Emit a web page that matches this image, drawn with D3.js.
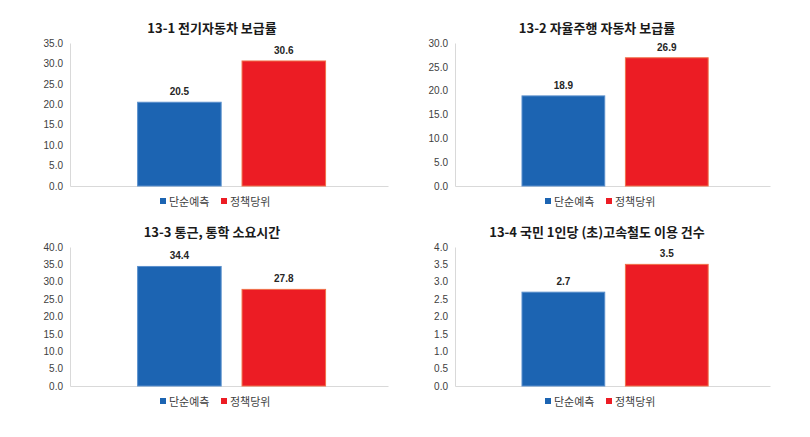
<!DOCTYPE html>
<html>
<head>
<meta charset="utf-8">
<script src="https://cdn.jsdelivr.net/npm/d3@7"></script>
<style>
  body { margin: 0; background: #fff; }
  svg { display: block; font-family: "Noto Sans CJK KR", "Noto Sans", sans-serif; }
</style>
</head>
<body>
<div id="chart"></div>
<script>
// data
const titles = ["13-1 전기자동차 보급률", "13-2 자율주행 자동차 보급률", "13-3 통근, 통학 소요시간", "13-4 국민 1인당 (초)고속철도 이용 건수"];
const series = ["단순예측", "정책당위"];
const simpleValues = [20.5, 18.9, 34.4, 2.7];
const policyValues = [30.6, 26.9, 27.8, 3.5];
const yMaxes = [35, 30, 40, 4];
const ySteps = [5, 5, 5, 0.5];

const colors = { "단순예측": "#1c64b2", "정책당위": "#ec1c24" };
const strokes = { "단순예측": "#5a8fcc", "정책당위": "#f0704a" };

let width = 810;
let height = 437;

// plot boxes for the 4 panels
const boxes = [
    { left: 70, right: 388, top: 43, bottom: 186, titleX: 212, titleY: 27, legendY: 201 },
    { left: 455, right: 770, top: 43, bottom: 186, titleX: 597, titleY: 27, legendY: 201 },
    { left: 70, right: 388, top: 247, bottom: 386, titleX: 212, titleY: 231, legendY: 401 },
    { left: 455, right: 770, top: 247, bottom: 386, titleX: 597, titleY: 231, legendY: 401 }
];

let svg = d3.select("#chart")
    .append("svg")
    .attr("width", width)
    .attr("height", height);

boxes.forEach((b, i) => {
    let dataset = series.map((s, j) => [s, j === 0 ? simpleValues[i] : policyValues[i]]);

    let x0 = d3.scaleBand()
        .domain(["all"])
        .range([b.left, b.right])
        .paddingInner(0)
        .paddingOuter(0.346)
        .align(0.52);

    let x1 = d3.scaleBand()
        .domain(series)
        .range([0, x0.bandwidth()])
        .paddingInner(0.2)
        .paddingOuter(0);

    let yScale = d3.scaleLinear()
        .domain([0, yMaxes[i]])
        .range([b.bottom, b.top]);

    let ticks = d3.range(0, yMaxes[i] + ySteps[i] / 2, ySteps[i]);

    let g = svg.append("g");

    // title
    g.append("text")
        .attr("x", b.titleX)
        .attr("y", b.titleY)
        .attr("text-anchor", "middle")
        .attr("dominant-baseline", "central")
        .attr("font-size", "13px")
        .attr("font-weight", "bold")
        .attr("fill", "#1a1a1a")
        .text(titles[i]);

    // y axis
    let yAxis = d3.axisLeft(yScale)
        .tickValues(ticks)
        .tickFormat(d3.format(".1f"))
        .tickSize(0)
        .tickPadding(7);

    let ya = g.append("g")
        .attr("transform", "translate(" + b.left + ",0)")
        .call(yAxis);
    ya.select(".domain").attr("stroke", "#d9d9d9");
    ya.selectAll("text")
        .attr("font-size", "10px")
        .attr("fill", "#404040")
        .attr("font-family", "Liberation Sans, Arial, sans-serif");

    // baseline
    let xAxis = d3.axisBottom(d3.scaleLinear().range([b.left, b.right])).ticks(0).tickSize(0);
    let xa = g.append("g")
        .attr("transform", "translate(0," + b.bottom + ")")
        .call(xAxis);
    xa.select(".domain").attr("stroke", "#d9d9d9");
    xa.selectAll("text").remove();

    // bars
    let gx = x0("all");
    g.selectAll("rect.bar")
        .data(dataset)
        .enter()
        .append("rect")
        .attr("class", "bar")
        .attr("x", d => gx + x1(d[0]))
        .attr("y", d => yScale(d[1]))
        .attr("width", x1.bandwidth())
        .attr("height", d => b.bottom - yScale(d[1]))
        .attr("fill", d => colors[d[0]])
        .attr("stroke", d => strokes[d[0]])
        .attr("stroke-width", 1);

    // value labels
    g.selectAll("text.val")
        .data(dataset)
        .enter()
        .append("text")
        .attr("class", "val")
        .attr("x", d => gx + x1(d[0]) + x1.bandwidth() / 2)
        .attr("y", d => yScale(d[1]) - 7)
        .attr("text-anchor", "middle")
        .attr("font-size", "10px")
        .attr("font-weight", "bold")
        .attr("fill", "#262626")
        .attr("font-family", "Liberation Sans, Arial, sans-serif")
        .text(d => d3.format(".1f")(d[1]));

    // legend
    let legend = g.append("g");
    let lx = b.titleX - 52;
    series.forEach((s, j) => {
        let ox = lx + j * 61;
        legend.append("rect")
            .attr("x", ox)
            .attr("y", b.legendY - 3)
            .attr("width", 6)
            .attr("height", 6)
            .attr("fill", colors[s]);
        legend.append("text")
            .attr("x", ox + 9)
            .attr("y", b.legendY)
            .attr("dominant-baseline", "central")
            .attr("font-size", "11px")
            .attr("fill", "#404040")
            .text(s);
    });
});
</script>
</body>
</html>
